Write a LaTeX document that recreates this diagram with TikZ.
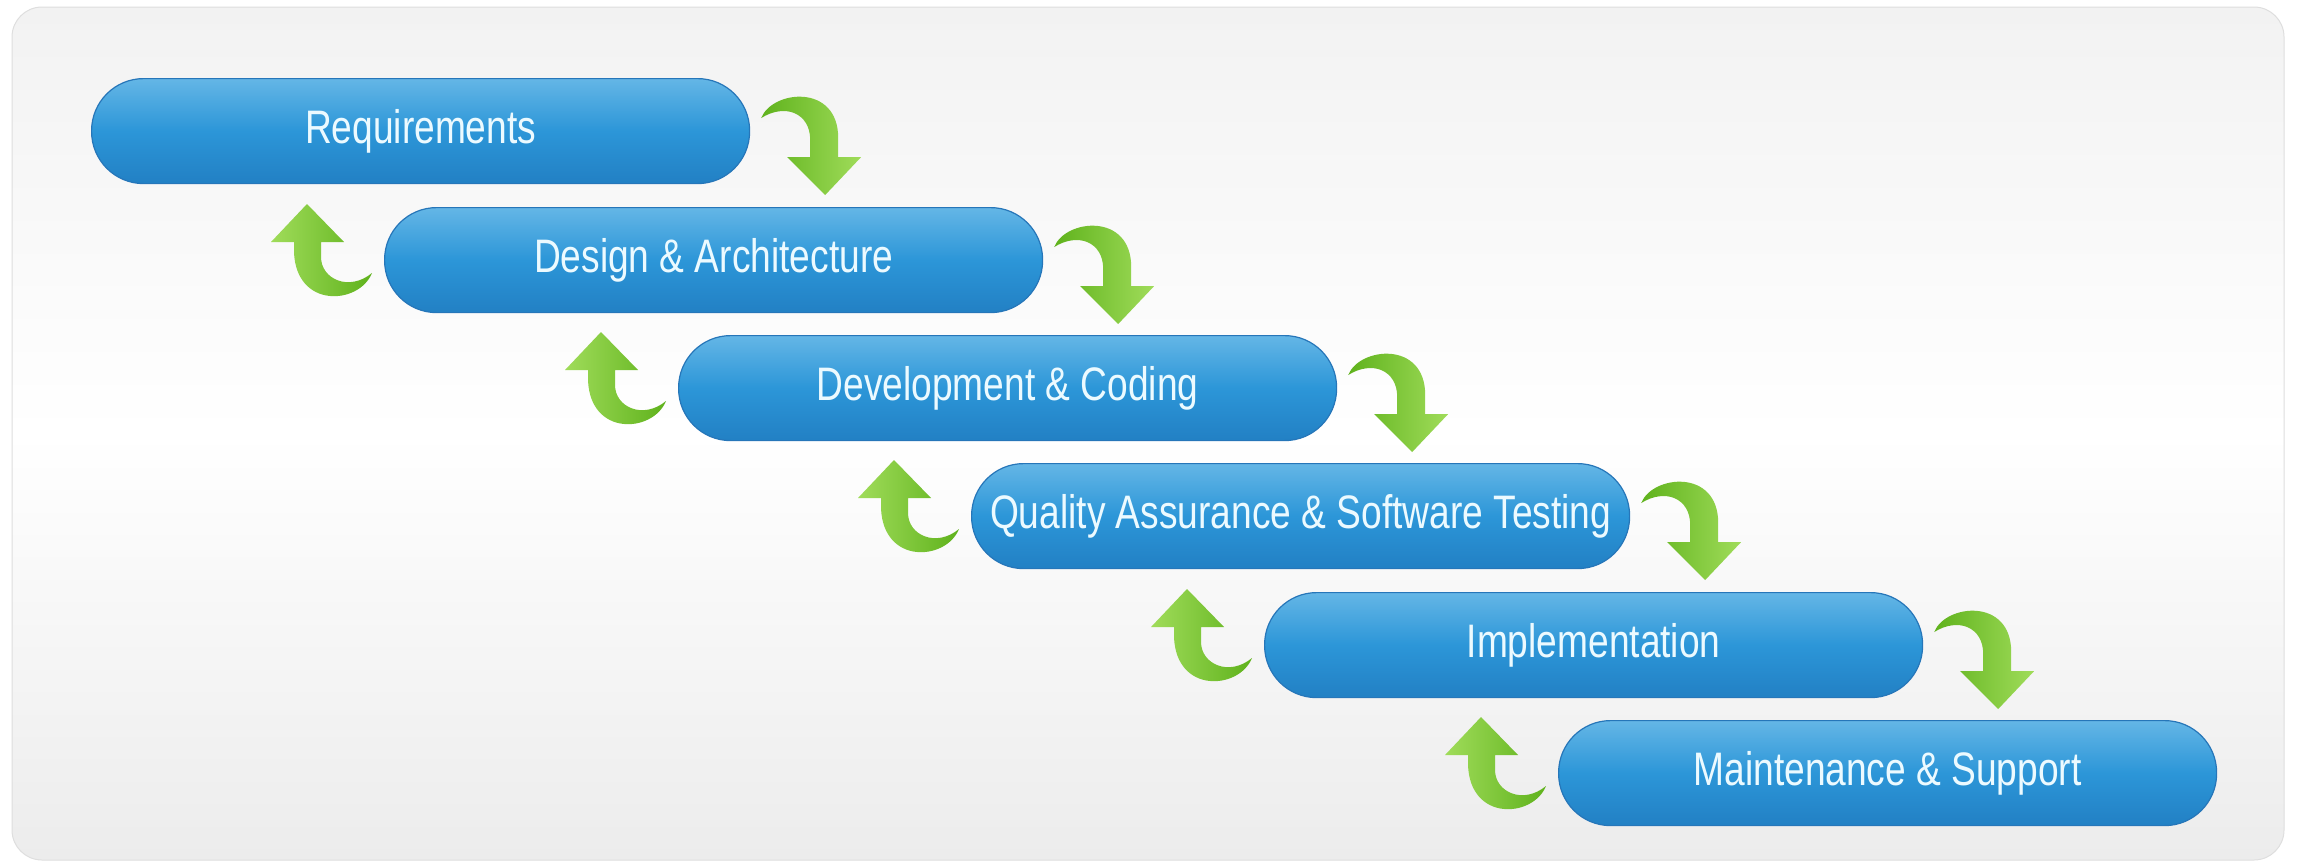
\documentclass[tikz,border=0pt]{standalone}
\usepackage{fontspec}
\setmainfont[FakeStretch=0.79]{Liberation Sans}
\definecolor{boxtop}{RGB}{100,182,230}
\definecolor{boxmid}{RGB}{44,150,216}
\definecolor{boxbot}{RGB}{34,128,196}
\definecolor{boxedge}{RGB}{38,118,185}
\definecolor{txt}{RGB}{236,250,255}
\definecolor{grA}{RGB}{160,220,90}
\definecolor{grB}{RGB}{95,178,28}
\definecolor{panelA}{RGB}{242,242,242}
\definecolor{panelB}{RGB}{236,236,236}
\definecolor{paneledge}{RGB}{222,222,222}
\tikzset{
  stage/.style={rounded corners=52pt, minimum width=658pt, minimum height=105pt,
    inner sep=0pt, top color=boxtop, bottom color=boxbot, middle color=boxmid,
    draw=boxedge, line width=1.2pt, text=txt,
    font=\fontsize{47}{54}\selectfont, anchor=north west},
  downfill/.style={left color=grB, right color=grA, draw=none},
  upfill/.style={left color=grA, right color=grB, draw=none},
}
\newcommand{\mydownarrow}[1]{%
  \path[downfill, shift={(#1.north east)}]
    (11,40) .. controls (22,12) and (88,5) .. (88,60) -- (88,79) -- (111,79)
    -- (75,117) -- (37,79) -- (60,79) -- (60,62)
    .. controls (60,35) and (35,25) .. (11,40) -- cycle;}
\newcommand{\myuparrow}[1]{%
  \path[upfill, shift={(#1.north west)}]
    (-77,-3) -- (-40,35) -- (-63,35) -- (-63,50)
    .. controls (-63,72) and (-35,85) .. (-12,66)
    .. controls (-25,98) and (-88,102) .. (-90,45) -- (-90,35) -- (-113,35) -- cycle;}
\begin{document}
\begin{tikzpicture}[x=1pt,y=-1pt]
\useasboundingbox (0,0) rectangle (2298,865);
\path[rounded corners=30pt, top color=panelA, bottom color=panelB, middle color=white,
  draw=paneledge, line width=1pt] (12,7) rectangle (2284,860);
\node[stage] (s1) at (91,78) {Requirements};
\node[stage] (s2) at (384,207) {Design \& Architecture};
\node[stage] (s3) at (678,335) {Development \& Coding};
\node[stage] (s4) at (971,463) {Quality Assurance \& Software Testing};
\node[stage] (s5) at (1264,592) {Implementation};
\node[stage] (s6) at (1558,720) {Maintenance \& Support};
\mydownarrow{s1}
\mydownarrow{s2}
\mydownarrow{s3}
\mydownarrow{s4}
\mydownarrow{s5}
\myuparrow{s2}
\myuparrow{s3}
\myuparrow{s4}
\myuparrow{s5}
\myuparrow{s6}
\end{tikzpicture}
\end{document}
